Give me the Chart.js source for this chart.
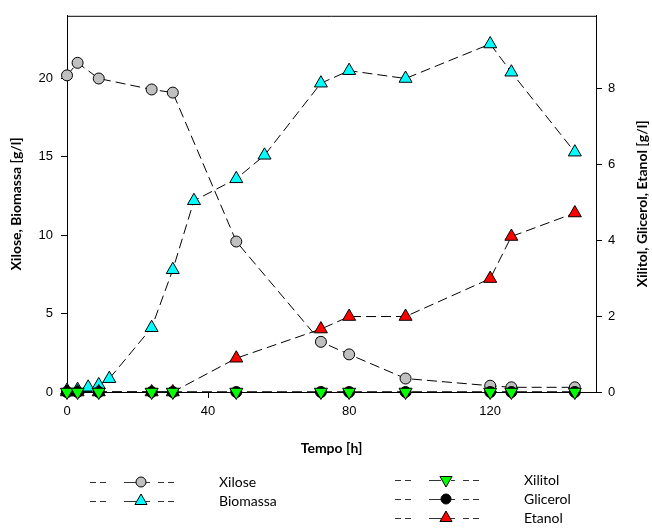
<!DOCTYPE html>
<html>
<head>
<meta charset="utf-8">
<script src="https://cdn.jsdelivr.net/npm/chart.js@4"></script>
<style>
  html, body { margin: 0; padding: 0; background: #fff; }
  #wrap { width: 652px; height: 528px; position: relative; }
</style>
</head>
<body>
<div id="wrap"><canvas id="c"></canvas></div>
<script>
// time points [h]
var tMain = [0, 3, 9, 24, 30, 48, 72, 80, 96, 120, 126, 144];
var tBiomassa = [0, 3, 6, 9, 12, 24, 30, 36, 48, 56, 72, 80, 96, 120, 126, 144];

// left axis [g/l]
var xilose = [20.2, 21.0, 20.0, 19.3, 19.1, 9.6, 3.2, 2.4, 0.86, 0.4, 0.3, 0.3];
var biomassa = [0.1, 0.15, 0.3, 0.45, 0.85, 4.1, 7.8, 12.2, 13.6, 15.1, 19.7, 20.5, 20.0, 22.2, 20.4, 15.3];

// right axis [g/l]
var xilitol = [0, 0, 0, 0, 0, 0, 0, 0, 0, 0, 0, 0];
var glicerol = [0, 0, 0, 0, 0, 0, 0, 0, 0, 0, 0, 0];
var etanol = [0, 0, 0, 0, 0, 0.89, 1.66, 1.99, 1.99, 2.99, 4.1, 4.72];

var xTicks = [0, 40, 80, 120];
var yLeftTicks = [0, 5, 10, 15, 20];
var yRightTicks = [0, 2, 4, 6, 8];

var TITLE_FONT = "bold 14px Lato, 'Open Sans', sans-serif";
var LEGEND_FONT = "14px Lato, 'Open Sans', sans-serif";
var TICK_FONT = { family: "'Liberation Sans', Arial, sans-serif", size: 13 };

function pts(xs, ys) {
    return xs.map(function (x, i) { return { x: x, y: ys[i] }; });
}

function series(label, xs, ys, axis, style, color, radius, rotation, order) {
    return {
        label: label,
        data: pts(xs, ys),
        yAxisID: axis,
        borderColor: "#000",
        borderWidth: 1,
        borderDash: [10, 5],
        pointStyle: style,
        pointRadius: radius,
        pointRotation: rotation || 0,
        pointBackgroundColor: color,
        pointBorderColor: "#000",
        pointBorderWidth: 1,
        showLine: true,
        clip: false,
        order: order,
    };
}

var datasets = [
    series("Xilitol", tMain, xilitol, "y2", "triangle", "#00ff00", 7.5, 180, 0),
    series("Glicerol", tMain, glicerol, "y2", "circle", "#000000", 5.5, 0, 1),
    series("Etanol", tMain, etanol, "y2", "triangle", "#ff0000", 7.5, 0, 2),
    series("Biomassa", tBiomassa, biomassa, "y", "triangle", "#00ffff", 7.5, 0, 3),
    series("Xilose", tMain, xilose, "y", "circle", "#c0c0c0", 5.5, 0, 4),
];

function fixTicks(arr) {
    return function (scale) {
        scale.ticks = arr.map(function (v) { return { value: v }; });
    };
}

// legend layout: [dataset label, marker x, y, text x]
var legendRows = [
    ["Xilose", 141, 482, 219],
    ["Biomassa", 141, 501, 219],
    ["Xilitol", 446, 480, 524],
    ["Glicerol", 446, 499, 524],
    ["Etanol", 446, 518, 524],
];

var extras = {
    id: "extras",
    afterDatasetsDraw: function (chart) {
        var ctx = chart.ctx;
        var a = chart.chartArea;
        ctx.save();
        // top frame line
        ctx.strokeStyle = "#000";
        ctx.lineWidth = 1;
        ctx.beginPath();
        ctx.moveTo(a.left, a.top + 0.5);
        ctx.lineTo(a.right, a.top + 0.5);
        ctx.stroke();

        // axis titles
        ctx.fillStyle = "#000";
        ctx.font = TITLE_FONT;
        ctx.textAlign = "center";
        ctx.textBaseline = "middle";
        ctx.fillText("Tempo [h]", (a.left + a.right) / 2, 448);

        ctx.save();
        ctx.translate(16, (a.top + a.bottom) / 2);
        ctx.rotate(-Math.PI / 2);
        ctx.fillText("Xilose, Biomassa [g/l]", 0, 0);
        ctx.restore();

        ctx.save();
        ctx.translate(642, (a.top + a.bottom) / 2);
        ctx.rotate(-Math.PI / 2);
        ctx.fillText("Xilitol, Glicerol, Etanol [g/l]", 0, 0);
        ctx.restore();

        // legend
        ctx.font = LEGEND_FONT;
        ctx.textAlign = "left";
        legendRows.forEach(function (row) {
            var ds = chart.data.datasets.find(function (d) { return d.label === row[0]; });
            var mx = row[1], my = row[2];
            ctx.strokeStyle = "#333";
            ctx.lineWidth = 1;
            ctx.setLineDash([]);
            var segs = [[-51, -45], [-41, -35], [-17, -5], [5, 9], [17, 23], [27, 33]];
            ctx.beginPath();
            segs.forEach(function (s) {
                ctx.moveTo(mx + s[0], my + 0.5);
                ctx.lineTo(mx + s[1], my + 0.5);
            });
            ctx.stroke();
            ctx.fillStyle = ds.pointBackgroundColor;
            ctx.strokeStyle = "#000";
            Chart.helpers.drawPoint(ctx, {
                pointStyle: ds.pointStyle,
                radius: ds.pointRadius - 0.5,
                rotation: ds.pointRotation,
                borderWidth: 1,
            }, mx, my);
            ctx.fillStyle = "#000";
            ctx.fillText(row[0], row[3], my);
        });
        ctx.restore();
    },
};

new Chart(document.getElementById("c"), {
    type: "scatter",
    data: { datasets: datasets },
    plugins: [extras],
    options: {
        responsive: true,
        maintainAspectRatio: false,
        animation: false,
        layout: { padding: { top: 11, left: 0, right: 0, bottom: 0 } },
        plugins: { legend: { display: false }, tooltip: { enabled: false } },
        scales: {
            x: {
                type: "linear",
                min: 0,
                max: 150,
                afterBuildTicks: fixTicks(xTicks),
                afterFit: function (s) { s.height = 136; },
                grid: { drawOnChartArea: false, tickLength: 6, color: "#000" },
                border: { color: "#000", width: 1 },
                ticks: { color: "#000", font: TICK_FONT, padding: 6, maxRotation: 0 },
            },
            y: {
                position: "left",
                min: 0,
                max: 24,
                afterBuildTicks: fixTicks(yLeftTicks),
                afterFit: function (s) { s.width = 67; },
                grid: { drawOnChartArea: false, tickLength: 6, color: "#000" },
                border: { color: "#000", width: 1 },
                ticks: { color: "#000", font: TICK_FONT, padding: 8 },
            },
            y2: {
                position: "right",
                min: 0,
                max: 9.92,
                afterBuildTicks: fixTicks(yRightTicks),
                afterFit: function (s) { s.width = 56; },
                grid: { drawOnChartArea: false, tickLength: 6, color: "#000" },
                border: { color: "#000", width: 1 },
                ticks: { color: "#000", font: TICK_FONT, padding: 6 },
            },
        },
    },
});
</script>
</body>
</html>
